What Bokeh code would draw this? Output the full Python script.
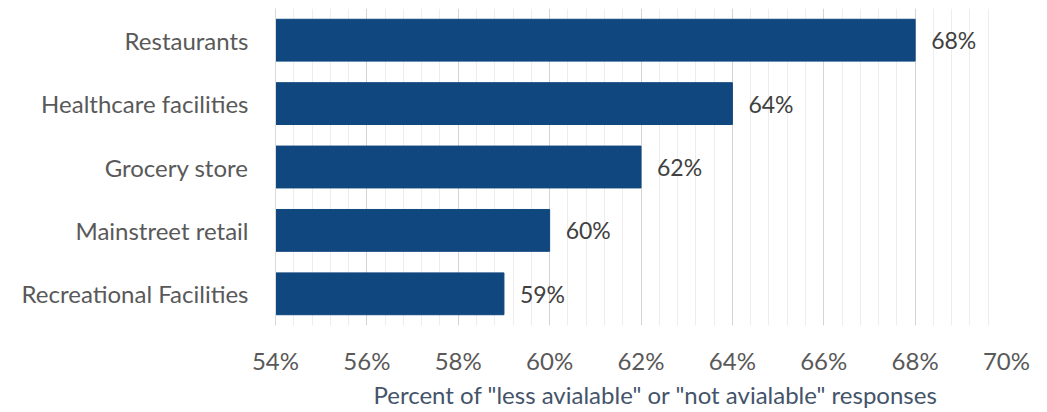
from bokeh.plotting import figure
from bokeh.models import Range1d, FixedTicker, ColumnDataSource, CustomJSTickFormatter, Title
from bokeh.core.properties import value
from bokeh.embed import file_html
from bokeh.resources import INLINE

categories = ["Restaurants", "Healthcare facilities", "Grocery store", "Mainstreet retail", "Recreational Facilities"]
values = [68.0, 64.0, 62.0, 60.0, 59.0]
labels = ["68%", "64%", "62%", "60%", "59%"]
major_ticks = [54, 56, 58, 60, 62, 64, 66, 68, 70]
x_title = 'Percent of "less avialable" or "not avialable" responses'

FONT = "Lato"
BAR = "#10477E"

src = ColumnDataSource(dict(cat=categories, val=values, lab=labels))

p = figure(width=1047, height=412, y_range=list(reversed(categories)),
           x_range=Range1d(54, 70), output_backend="svg", toolbar_location=None)
p.min_border_left = 275
p.min_border_right = 41
p.min_border_top = 8
p.min_border_bottom = 87
p.outline_line_color = None
p.background_fill_color = "white"
p.border_fill_color = "white"

p.hbar(y="cat", left=54, right="val", height=0.66, source=src, fill_color=BAR, line_color=BAR)
p.text(x="val", y="cat", text="lab", source=src, x_offset=16, text_baseline="middle",
       text_align="left", text_font=value(FONT), text_font_size="23px", text_color="#404040")

minor = [54 + 0.4 * i for i in range(41)]
p.xaxis.ticker = FixedTicker(ticks=major_ticks, minor_ticks=minor)
p.xaxis.formatter = CustomJSTickFormatter(code="return tick.toFixed(0) + '%';")
p.xaxis.axis_line_color = None
p.xaxis.major_tick_line_color = None
p.xaxis.minor_tick_line_color = None
p.xaxis.major_label_text_font = FONT
p.xaxis.major_label_text_font_size = "24px"
p.xaxis.major_label_text_color = "#595959"
p.xaxis.major_label_standoff = 14

t = Title(text=x_title, align="left", offset=98, text_font=FONT, text_font_size="24px",
          text_font_style="normal", text_color="#44546A", standoff=0)
p.add_layout(t, "below")

p.xgrid.grid_line_color = "#D4D4D4"
p.xgrid.minor_grid_line_color = "#EDEDED"
p.ygrid.grid_line_color = None

p.yaxis.axis_line_color = "#D9D9D9"
p.yaxis.major_tick_line_color = None
p.yaxis.minor_tick_line_color = None
p.yaxis.major_label_text_font = FONT
p.yaxis.major_label_text_font_size = "24px"
p.yaxis.major_label_text_color = "#595959"
p.yaxis.major_label_standoff = 21

open("out.html", "w").write(file_html(p, INLINE))
